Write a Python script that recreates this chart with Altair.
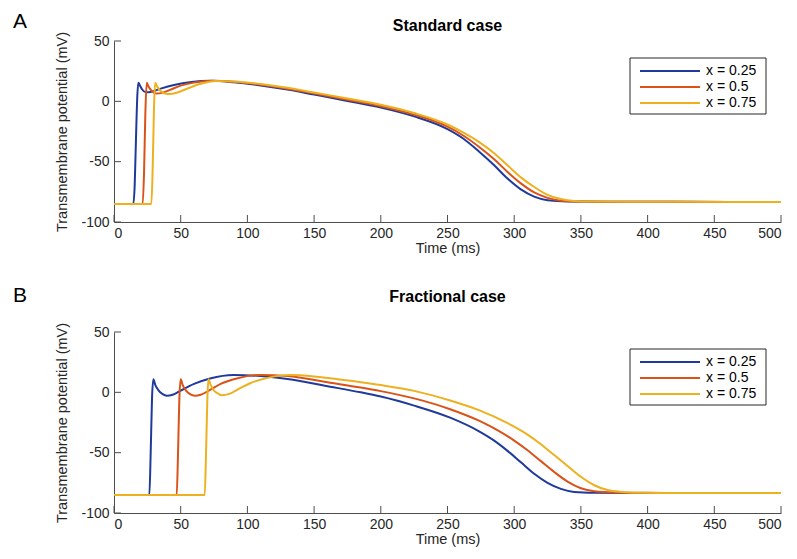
import altair as alt
import pandas as pd

series_labels = ["x = 0.25", "x = 0.5", "x = 0.75"]
colors = ["#1f3a9a", "#d95319", "#edb120"]
x_ticks = [0, 50, 100, 150, 200, 250, 300, 350, 400, 450, 500]
y_ticks = [-100, -50, 0, 50]

# ---- Panel A: standard case ----
a_t_025 = [0, 14.5, 15.5, 16.5, 17.5, 18.2, 19.5, 21, 24, 28, 35, 45, 58, 72, 90, 110, 130, 150, 175, 200, 225, 250, 262, 274, 285, 295, 305, 315, 325, 340, 370, 420, 500]
a_v_025 = [-85, -85, -70, -30, 5, 15.5, 13, 10, 7.5, 8, 10.5, 13.5, 16, 17, 15.8, 13.2, 9.8, 5.6, 0.3, -5.2, -12.5, -23, -31, -42, -53, -64, -73, -79, -82, -83, -83.2, -83.3, -83.5]
a_t_05 = [0, 21.5, 22.5, 23.5, 24.5, 26, 28, 32, 36, 42, 50, 60, 74, 90, 110, 130, 150, 175, 200, 225, 250, 262, 274, 285, 295, 305, 315, 325, 335, 350, 380, 420, 500]
a_v_05 = [-85, -85, -60, -10, 15.5, 12, 9, 6.5, 7, 9.5, 13, 15.5, 17, 16.2, 13.8, 10.5, 6.5, 1.4, -4.0, -11.0, -21.0, -28.5, -38, -48, -58.5, -68, -75.5, -80, -82.3, -83, -83.2, -83.3, -83.5]
a_t_075 = [0, 28, 29, 30, 30.8, 32.5, 35, 38, 42, 48, 56, 65, 76, 90, 110, 130, 150, 175, 200, 225, 250, 262, 274, 285, 295, 305, 315, 325, 335, 345, 360, 390, 430, 500]
a_v_075 = [-85, -85, -55, -5, 15.5, 12, 8.5, 6.5, 6, 7.5, 11, 14.5, 16.8, 16.4, 14.3, 11.2, 7.3, 2.4, -2.9, -9.7, -19.2, -26, -34, -43, -53, -63, -71, -77.5, -81, -82.5, -83, -83.2, -83.3, -83.5]

# ---- Panel B: fractional case ----
b_t_025 = [0, 26.5, 27.5, 28.5, 29.5, 31, 33.5, 36.5, 39.5, 44, 50, 60, 72, 89.5, 110, 130, 162, 185, 200, 225, 252, 274, 285, 295, 305, 315, 325, 335, 345, 360, 400, 450, 500]
b_v_025 = [-85, -85, -50, -5, 10.8, 6, 1.5, -1.5, -2.8, -2, 1.5, 7, 11.5, 14.4, 13.5, 11, 4.7, 0, -3.5, -11, -21, -32.5, -40, -48.5, -58, -67.5, -75, -80, -82.5, -83.2, -83.5, -83.5, -83.5]
b_t_05 = [0, 47, 48, 49, 50, 51.5, 54, 57, 60.7, 65, 72, 80, 92, 109.5, 130, 162, 185, 200, 225, 252, 274, 290, 300, 310, 320, 330, 340, 350, 360, 375, 400, 450, 500]
b_v_05 = [-85, -85, -50, -5, 10.8, 6, 1.5, -1.5, -2.8, -2, 2, 7, 11.5, 14.4, 13.5, 8, 4, 1, -5, -14, -23.7, -33, -40, -48, -57, -66, -74, -79.5, -82, -83, -83.3, -83.5, -83.5]
b_t_075 = [0, 68, 69, 70, 70.8, 72.5, 75, 78, 81, 86, 93, 102, 115, 132, 150, 162, 185, 200, 225, 252, 274, 295, 310, 320, 330, 340, 350, 360, 370, 380, 395, 420, 460, 500]
b_v_075 = [-85, -85, -50, -5, 10.8, 6, 1.5, -1, -2.4, -1.5, 2.5, 7.5, 12, 14.4, 13.2, 11.6, 8.4, 6.0, 1.2, -6.8, -15, -25.5, -35, -43, -52, -61, -70, -77, -81, -82.5, -83.2, -83.5, -83.5, -83.5]

FONT = "Liberation Sans"
W, H = 667, 181


def make_df(pairs):
    rows = []
    for (ts, vs), lab in zip(pairs, series_labels):
        for t, v in zip(ts, vs):
            rows.append({"t": t, "v": v, "series": lab})
    return pd.DataFrame(rows)


df_a = make_df([(a_t_025, a_v_025), (a_t_05, a_v_05), (a_t_075, a_v_075)])
df_b = make_df([(b_t_025, b_v_025), (b_t_05, b_v_05), (b_t_075, b_v_075)])
xt_df = pd.DataFrame({"tx": x_ticks})
yt_df = pd.DataFrame({"ty": y_ticks})
leg_df = pd.DataFrame({"series": series_labels})

xscale = alt.Scale(domain=[0, 500], nice=False)
yscale = alt.Scale(domain=[-100, 50], nice=False)
cscale = alt.Scale(domain=series_labels, range=colors)


def panel(df, title, letter, letter_y, title_y):
    lines = alt.Chart(df).mark_line(strokeWidth=2, interpolate="monotone").encode(
        x=alt.X("t:Q", scale=xscale,
                axis=alt.Axis(values=x_ticks, title="Time (ms)", labelPadding=4,
                              titlePadding=1, labelExpr="datum.value")),
        y=alt.Y("v:Q", scale=yscale,
                axis=alt.Axis(values=y_ticks, title="Transmembrane potential (mV)",
                              labelPadding=5, titlePadding=11, labelExpr="datum.value")),
        color=alt.Color("series:N", scale=cscale, legend=None),
        order=alt.Order("series:N"),
    )
    xt = alt.Chart(xt_df).mark_rule(color="#4d4d4d", strokeWidth=1).encode(
        x=alt.X("tx:Q", scale=xscale), y=alt.value(H), y2=alt.value(H - 7))
    yt = alt.Chart(yt_df).mark_rule(color="#4d4d4d", strokeWidth=1).encode(
        y=alt.Y("ty:Q", scale=yscale), x=alt.value(0), x2=alt.value(7))
    lab = alt.Chart(pd.DataFrame({"lab": [letter]})).mark_text(
        align="left", baseline="middle", fontSize=21, font=FONT, color="#000000").encode(
        text="lab:N", x=alt.value(-101), y=alt.value(letter_y))
    ttl = alt.Chart(pd.DataFrame({"ttl": [title]})).mark_text(
        align="center", baseline="middle", fontSize=16, fontWeight="bold", font=FONT,
        color="#000000").encode(text="ttl:N", x=alt.value(W / 2), y=alt.value(title_y))
    base = alt.layer(lines, xt, yt, lab, ttl)

    legy = alt.Y("series:N", scale=alt.Scale(type="point", domain=series_labels,
                                              range=[30, 62], padding=0), axis=None)
    box = alt.Chart(pd.DataFrame({"b": [1]})).mark_rect(
        fill="white", stroke="#262626", strokeWidth=1).encode(
        x=alt.value(516), x2=alt.value(652), y=alt.value(17), y2=alt.value(73))
    leg_lines = alt.Chart(leg_df).mark_rule(strokeWidth=2).encode(
        y=legy, x=alt.value(526), x2=alt.value(586),
        color=alt.Color("series:N", scale=cscale, legend=None))
    leg_text = alt.Chart(leg_df).mark_text(
        align="left", baseline="middle", fontSize=14, font=FONT, color="#000000").encode(
        y=legy, x=alt.value(592), text="series:N")
    legend = alt.layer(box, leg_lines, leg_text)

    return alt.layer(base, legend).resolve_scale(y="independent").properties(
        width=W, height=H)


chart = alt.vconcat(
    panel(df_a, "Standard case", "A", -19, -15),
    panel(df_b, "Fractional case", "B", -36, -35),
    spacing=30,
).properties(padding={"left": 13, "top": 11, "right": 5, "bottom": 5}).configure_view(
    stroke=None
).configure_axis(
    grid=False, ticks=False, domainColor="#4d4d4d", domainWidth=1,
    labelColor="#262626", titleColor="#262626", labelFont=FONT, titleFont=FONT,
    labelFontSize=14, titleFontSize=14.5, titleFontWeight="normal"
)

chart.save("out.html", embed_options={"renderer": "svg", "actions": False})
